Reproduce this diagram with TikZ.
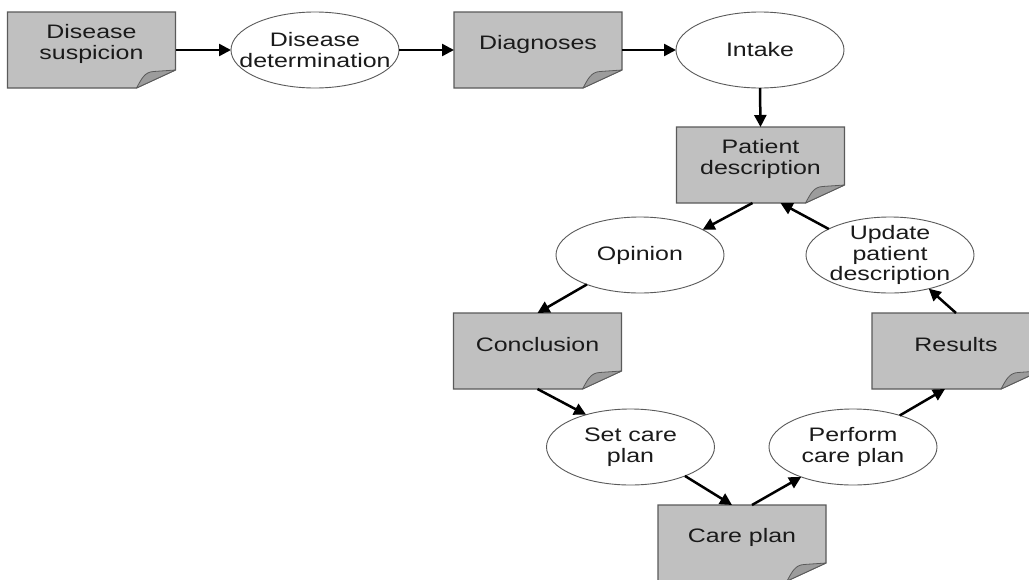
\documentclass[tikz,border=0pt]{standalone}
\usepackage{fontspec}
\setmainfont[FakeStretch=1.28]{Liberation Sans}
\usetikzlibrary{shapes.geometric,arrows.meta}
\definecolor{paper}{HTML}{C0C0C0}
\definecolor{foldc}{HTML}{9C9C9C}
\definecolor{edge}{HTML}{5A5A5A}
\definecolor{txt}{HTML}{1A1A1A}
\tikzset{
  docbox/.style={rectangle,minimum width=168pt,minimum height=76pt,inner sep=0pt,outer sep=0pt},
  docpaper/.style={fill=paper,draw=edge,line width=1.1pt,line join=miter},
  docfold/.style={fill=foldc,draw=edge,line width=0.8pt,line join=round},
  proc/.style={ellipse,draw=edge,fill=white,line width=0.9pt,minimum width=168pt,minimum height=76pt,inner sep=0pt,outer sep=0pt},
  lbl/.style={align=center,text=txt,font=\fontsize{19.5}{20.5}\selectfont,inner sep=0pt},
  flow/.style={line width=2.5pt,-{Triangle[length=12pt,width=12pt]},line cap=butt}
}
\newcommand\docnode[4]{%
  \node[docbox] (#1) at (#2,#3) {};
  \path[docpaper] (#1.north west) -- (#1.north east) -- ([yshift=18pt]#1.south east)
     -- ([xshift=-39pt]#1.south east) -- (#1.south west) -- cycle;
  \path[docfold] ([yshift=18pt]#1.south east) -- ([xshift=-39pt]#1.south east)
     .. controls ([xshift=-34pt,yshift=9pt]#1.south east) and ([xshift=-31pt,yshift=16pt]#1.south east)
     .. ([xshift=-22pt,yshift=16.5pt]#1.south east) -- cycle;
  \node[lbl] (#1-t) at ([yshift=6pt]#1.center) {#4};
}
\newcommand\procnode[4]{%
  \node[proc] (#1) at (#2,#3) {};
  \node[lbl] (#1-t) at (#1.center) {#4};
}
\begin{document}
\begin{tikzpicture}[x=1pt,y=-1pt]
\useasboundingbox (0,0) rectangle (1029,579);
\clip (0,0) rectangle (1029,579);
\fill[white] (0,0) rectangle (1029,579);
\docnode{ds}{91.5}{50}{Disease\\suspicion}
\procnode{dd}{315}{50}{Disease\\determination}
\docnode{diag}{538}{50}{Diagnoses}
\procnode{in}{760}{50}{Intake}
\docnode{pd}{760.5}{165}{Patient\\description}
\procnode{op}{640}{255}{Opinion}
\procnode{up}{890}{255}{Update\\patient\\description}
\docnode{concl}{537.5}{351}{Conclusion}
\docnode{res}{956}{351}{Results}
\procnode{set}{630.5}{447}{Set care\\plan}
\procnode{perf}{853}{447}{Perform\\care plan}
\docnode{cp}{742}{543}{Care plan}

\draw[flow] (ds.east) -- (dd.west);
\draw[flow] (dd.east) -- (diag.west);
\draw[flow] (diag.east) -- (in.west);
\draw[flow] (in.south) -- (pd.north);
\draw[flow] ([xshift=-8pt]pd.south) -- (op.22);
\draw[flow] (up.157) -- ([xshift=20pt]pd.south);
\draw[flow] (op.209) -- (concl.north);
\draw[flow] (concl.south) -- (set.144);
\draw[flow] (set.-28) -- ([xshift=-10pt]cp.north);
\draw[flow] ([xshift=10pt]cp.north) -- (perf.210);
\draw[flow] (perf.34) -- ([xshift=-11pt]res.south);
\draw[flow] (res.north) -- (up.-41);
\end{tikzpicture}
\end{document}
